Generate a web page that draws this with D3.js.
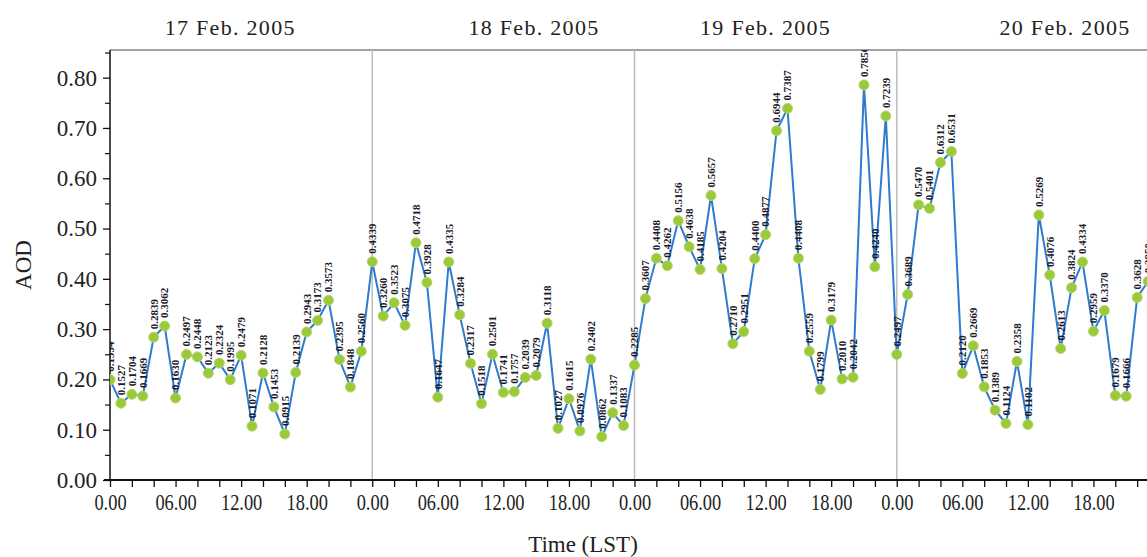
<!DOCTYPE html>
<html>
<head>
<meta charset="utf-8">
<script src="https://cdn.jsdelivr.net/npm/d3@7"></script>
<style>
  html, body { margin: 0; padding: 0; background: #fff; overflow: hidden; }
  svg { display: block; font-family: "Liberation Serif", "DejaVu Serif", serif; }
</style>
</head>
<body>
<svg id="chart" width="1147" height="557"></svg>
<script>
// day names and where their captions sit (hours from the day start)
var days = ["17 Feb. 2005", "18 Feb. 2005", "19 Feb. 2005", "20 Feb. 2005"];
var dayLabelHour = [11, 14.8, 12, 15.4];
var hourTickLabels = ["0.00", "06.00", "12.00", "18.00"];
var yTicks = [0, 0.1, 0.2, 0.3, 0.4, 0.5, 0.6, 0.7, 0.8];

// hourly AOD, one array per day (hour 0..23)
var aod17 = [0.1994, 0.1527, 0.1704, 0.1669, 0.2839, 0.3062, 0.1630, 0.2497, 0.2448, 0.2123, 0.2324, 0.1995,
             0.2479, 0.1071, 0.2128, 0.1453, 0.0915, 0.2139, 0.2943, 0.3173, 0.3573, 0.2395, 0.1848, 0.2560];
var aod18 = [0.4339, 0.3260, 0.3523, 0.3075, 0.4718, 0.3928, 0.1647, 0.4335, 0.3284, 0.2317, 0.1518, 0.2501,
             0.1741, 0.1757, 0.2039, 0.2079, 0.3118, 0.1027, 0.1615, 0.0976, 0.2402, 0.0862, 0.1337, 0.1083];
var aod19 = [0.2285, 0.3607, 0.4408, 0.4262, 0.5156, 0.4638, 0.4185, 0.5657, 0.4204, 0.2710, 0.2951, 0.4400,
             0.4877, 0.6944, 0.7387, 0.4408, 0.2559, 0.1799, 0.3179, 0.2010, 0.2042, 0.7856, 0.4240, 0.7239];
var aod20 = [0.2497, 0.3689, 0.5470, 0.5401, 0.6312, 0.6531, 0.2120, 0.2669, 0.1853, 0.1389, 0.1124, 0.2358,
             0.1102, 0.5269, 0.4076, 0.2613, 0.3824, 0.4334, 0.2959, 0.3370, 0.1679, 0.1666, 0.3628, 0.3950];

var allDays = [aod17, aod18, aod19, aod20];
var points = [];
allDays.forEach(function(arr, d) {
    arr.forEach(function(v, h) { points.push({ t: d * 24 + h, v: v }); });
});

var svg = d3.select("#chart");
var pLeft = 110, pRight = 1159, pTop = 50, pBottom = 480;

var x = d3.scaleLinear().domain([0, 96]).range([pLeft, pRight]);
var y = d3.scaleLinear().domain([0, 0.855]).range([pBottom, pTop]);

svg.append("defs").append("clipPath").attr("id", "plotClip")
    .append("rect").attr("x", pLeft).attr("y", pTop).attr("width", pRight - pLeft).attr("height", pBottom - pTop);

// frame top line
svg.append("line").attr("x1", pLeft).attr("x2", pRight).attr("y1", pTop).attr("y2", pTop)
    .attr("stroke", "#444").attr("stroke-width", 1.2);

// day separators
svg.selectAll(".sep").data([1, 2, 3]).enter().append("line")
    .attr("x1", d => x(d * 24)).attr("x2", d => x(d * 24))
    .attr("y1", pTop).attr("y2", pBottom)
    .attr("stroke", "#bdbdbd").attr("stroke-width", 1.5);

// day captions
svg.selectAll(".day").data(days).enter().append("text")
    .attr("x", (d, i) => x(i * 24 + dayLabelHour[i]))
    .attr("y", 35)
    .attr("text-anchor", "middle")
    .attr("font-size", 22)
    .attr("letter-spacing", 1.3)
    .attr("fill", "#222")
    .text(d => d);

// y axis
var yAxis = d3.axisLeft(y).tickValues(yTicks).tickFormat(d3.format(".2f")).tickSize(7).tickPadding(6);
var gy = svg.append("g").attr("transform", "translate(" + pLeft + ",0)").call(yAxis);
gy.select(".domain").attr("stroke", "#111").attr("stroke-width", 1.5).attr("d", "M0," + pTop + "V" + pBottom);
gy.selectAll("text").attr("font-size", 23).attr("fill", "#222").attr("font-family", "Liberation Serif");
gy.selectAll("line").attr("stroke", "#111").attr("stroke-width", 1.3);
svg.append("g").attr("transform", "translate(" + pLeft + ",0)")
    .call(d3.axisLeft(y).tickValues(yTicks.map(t => t + 0.05)).tickSize(5).tickFormat(""))
    .call(g => g.select(".domain").remove())
    .selectAll("line").attr("stroke", "#111").attr("stroke-width", 1.2);

// x axis: a tick every 2 h, a label every 6 h
var xAxis = d3.axisBottom(x).tickValues(d3.range(0, 96, 2)).tickSize(7).tickPadding(7)
    .tickFormat(d => d % 6 === 0 ? hourTickLabels[(d % 24) / 6] : "");
var gx = svg.append("g").attr("transform", "translate(0," + pBottom + ")").call(xAxis);
gx.select(".domain").attr("stroke", "#111").attr("stroke-width", 2.2).attr("d", "M" + (pLeft - 6) + ",0H" + pRight);
gx.selectAll("text").attr("font-size", 23).attr("fill", "#222").attr("font-family", "Liberation Serif")
    .attr("transform", "scale(0.8,1)");
gx.selectAll("line").attr("stroke", "#111").attr("stroke-width", 1.3);

// axis titles
svg.append("text").attr("transform", "translate(31,265) rotate(-90)")
    .attr("text-anchor", "middle").attr("font-size", 23).attr("fill", "#222").text("AOD");
svg.append("text").attr("x", 583).attr("y", 552)
    .attr("text-anchor", "middle").attr("font-size", 23).attr("fill", "#222").text("Time (LST)");

// series
var plot = svg.append("g").attr("clip-path", "url(#plotClip)");
var line = d3.line().x(d => x(d.t)).y(d => y(d.v));
plot.append("path").datum(points).attr("d", line)
    .attr("fill", "none").attr("stroke", "#2f7bcf").attr("stroke-width", 2);

plot.selectAll("circle").data(points).enter().append("circle")
    .attr("cx", d => x(d.t)).attr("cy", d => y(d.v)).attr("r", 5)
    .attr("fill", "#9cc93a").attr("stroke", "#b5d86a").attr("stroke-width", 1);

plot.selectAll(".lbl").data(points).enter().append("text")
    .attr("transform", d => "translate(" + x(d.t) + "," + (y(d.v) - 8) + ") rotate(-90)")
    .attr("dy", "0.35em")
    .attr("font-size", 11)
    .attr("font-weight", "bold")
    .attr("fill", "#1a1a2a")
    .text(d => d.v.toFixed(4));
</script>
</body>
</html>
